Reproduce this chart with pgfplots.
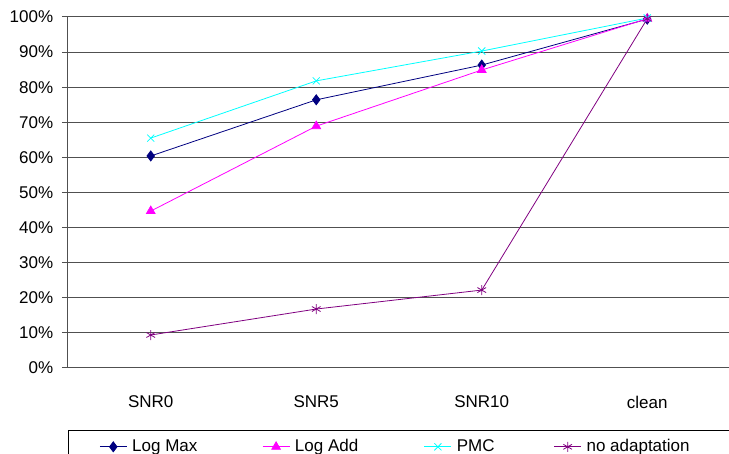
\documentclass[border=0pt]{standalone}
\usepackage{pgfplots}
\pgfplotsset{compat=1.18}
\usepackage{fontspec}
\setmainfont{Liberation Sans}
\definecolor{cLM}{RGB}{0,0,128}
\definecolor{cLA}{RGB}{255,0,255}
\definecolor{cPMC}{RGB}{0,255,255}
\definecolor{cNA}{RGB}{128,0,128}
\definecolor{gridc}{RGB}{80,80,80}
\begin{document}
\fontsize{17pt}{20pt}\selectfont
\begin{tikzpicture}
\useasboundingbox (-68pt,-86pt) rectangle (661pt,368pt);
\begin{axis}[
  at={(0pt,0pt)}, anchor=origin,
  scale only axis,
  width=662pt, height=351pt,
  xmin=0, xmax=4, ymin=0, ymax=100,
  xtick={0.5,1.5,2.5,3.5},
  xticklabels={SNR0,SNR5,SNR10,clean},
  major x tick style={draw=none},
  xticklabel style={yshift=-16pt},
  ytick={0,10,...,100},
  yticklabel={\pgfmathprintnumber{\tick}\%},
  /pgf/number format/assume math mode=true,
  tick label style={font=\fontsize{17pt}{20pt}\selectfont},
  yticklabel style={xshift=-3pt},
  axis x line*=bottom, axis y line*=left,
  axis line style={gridc, line width=1pt},
  ytick style={gridc, line width=1pt},
  tick align=outside, major tick length=6pt,
  ymajorgrids, grid style={gridc, line width=1pt},
  legend columns=4,
  legend style={at={(0,0)}, anchor=north west, yshift=-62pt, xshift=0pt,
    draw=black, line width=0.8pt, inner xsep=31pt, inner ysep=7pt,
    font=\fontsize{17pt}{20pt}\selectfont,
    nodes={inner xsep=0pt},
    /tikz/every odd column/.append style={column sep=5pt},
    /tikz/every even column/.append style={column sep=0pt},
    legend cell align=left},
  legend image code/.code={\draw[mark repeat=2,mark phase=2,#1] plot coordinates {(0pt,0pt) (13.5pt,0pt) (27pt,0pt)};},
  legend image post style={line width=0.8pt},
]
\addplot[cLM, line width=0.8pt, mark=diamond*, mark size=5pt, mark options={fill=cLM}]
  coordinates {(0.5,60.4) (1.5,76.4) (2.5,86.3) (3.5,99.4)};
\addlegendentry{\makebox[130pt][l]{Log Max}}
\addplot[cLA, line width=0.8pt, mark=triangle*, mark size=5pt, mark options={fill=cLA}]
  coordinates {(0.5,44.7) (1.5,68.9) (2.5,84.9) (3.5,99.5)};
\addlegendentry{\makebox[129pt][l]{Log Add}}
\addplot[cPMC, line width=0.8pt, mark=x, mark size=5pt]
  coordinates {(0.5,65.5) (1.5,81.8) (2.5,90.3) (3.5,99.7)};
\addlegendentry{\makebox[97pt][l]{PMC}}
\addplot[cNA, line width=0.8pt, mark=asterisk, mark size=5pt]
  coordinates {(0.5,9.4) (1.5,16.8) (2.5,22.2) (3.5,99.5)};
\addlegendentry{\makebox[160pt][l]{no adaptation}}
\end{axis}
\end{tikzpicture}
\end{document}
